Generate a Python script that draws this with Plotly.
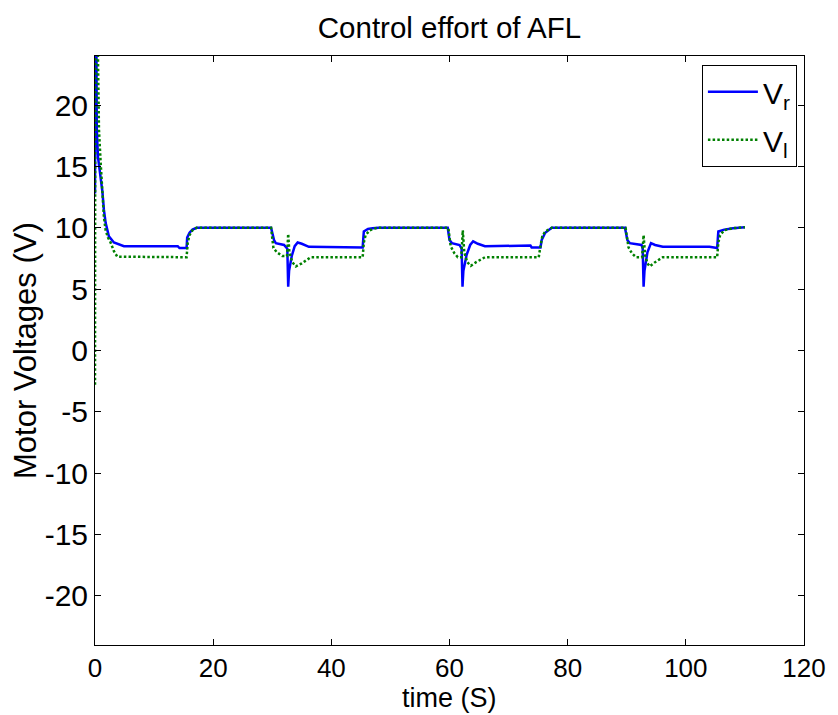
import plotly.graph_objects as go

# V_r (blue, solid)
t_r = [0, 0.05, 0.25, 0.3, 0.5, 1.0, 1.24, 1.5, 1.8, 2.35, 3.2, 4.9, 14.0, 14.3, 15.5,
       15.6, 16.0, 16.5, 17.2, 18.0, 29.8, 30.3, 30.6, 32.0, 32.55, 32.7, 32.85, 33.3,
       33.8, 34.3, 35.0, 36.2, 44.0, 45.3, 45.5, 46.2, 47.0, 48.0, 59.7, 60.0, 60.4,
       61.7, 62.05, 62.2, 62.35, 62.9, 63.5, 64.0, 64.8, 66.0, 73.7, 73.9, 75.4, 75.6,
       76.2, 77.3, 78.0, 89.7, 90.1, 90.5, 92.5, 92.7, 92.85, 93.0, 93.5, 94.1, 94.8,
       96.1, 104.0, 105.3, 105.5, 106.5, 108.0, 109.8, 110.0]
v_r = [12.8, 30, 24, 18.1, 15.8, 13.9, 13.0, 11.5, 10.4, 9.3, 8.8, 8.5, 8.5, 8.35, 8.35,
       9.2, 9.6, 9.85, 10.0, 10.0, 10.0, 9.0, 8.75, 8.6, 8.3, 5.2, 6.5, 7.7,
       8.5, 8.8, 8.7, 8.45, 8.45, 8.4, 9.7, 9.9, 9.97, 10.0, 10.0, 9.0, 8.75,
       8.6, 8.3, 5.2, 6.5, 7.8, 8.6, 8.9, 8.7, 8.5, 8.55, 8.4, 8.4, 9.0,
       9.6, 10.0, 10.0, 10.0, 9.0, 8.75, 8.6, 8.3, 5.2, 6.5, 8.0, 8.75, 8.6,
       8.45, 8.45, 8.35, 9.7, 9.85, 9.97, 10.05, 10.05]

# V_l (green, dotted)
t_l = [0, 0.05, 0.5, 0.67, 0.96, 1.24, 1.5, 1.8, 2.2, 2.64, 3.2, 3.76, 15.4, 15.5,
       15.7, 16.0, 16.5, 17.2, 18.0, 29.8, 30.2, 30.8, 31.7, 32.5, 32.7, 32.9, 33.4,
       34.0, 35.0, 36.5, 45.3, 45.5, 45.8, 46.5, 47.5, 48.0, 59.8, 60.2, 60.8, 61.4,
       62.0, 62.25, 62.5, 63.0, 63.6, 64.5, 66.0, 75.1, 75.4, 75.7, 76.2, 77.3, 78.0,
       89.8, 90.3, 90.9, 91.6, 92.6, 92.85, 93.1, 93.5, 93.9, 94.8, 96.1, 105.3, 105.5,
       105.8, 106.5, 108.0, 110.0]
v_l = [-2.8, 30, 24, 18, 15.3, 12.6, 10.9, 9.8, 9.2, 8.8, 8.1, 7.65, 7.6, 7.6,
       8.8, 9.4, 9.8, 10.0, 10.0, 10.0, 8.35, 8.0, 7.7, 7.7, 9.5, 8.0, 7.2,
       6.85, 7.1, 7.6, 7.6, 8.8, 9.4, 9.8, 9.97, 10.0, 10.0, 8.5, 7.95, 7.6,
       7.6, 9.8, 8.0, 7.2, 6.9, 7.2, 7.6, 7.6, 8.5, 9.3, 9.7, 10.0, 10.0,
       10.0, 8.4, 7.9, 7.6, 7.6, 9.4, 7.8, 7.1, 6.85, 7.2, 7.6, 7.6, 8.8,
       9.4, 9.8, 9.97, 10.05]

x_ticks = [0, 20, 40, 60, 80, 100, 120]
x_tick_labels = ["0", "20", "40", "60", "80", "100", "120"]
y_ticks = [-20, -15, -10, -5, 0, 5, 10, 15, 20]
y_tick_labels = ["-20", "-15", "-10", "-5", "0", "5", "10", "15", "20"]

FONT = "Liberation Sans, Arial, sans-serif"

fig = go.Figure()
fig.add_trace(go.Scatter(x=t_r, y=v_r, mode="lines", name="V<sub>r</sub>",
                         legendgroup="r",
                         line=dict(color="#0000ff", width=2.5)))
fig.add_trace(go.Scatter(x=t_l, y=v_l, mode="lines", name="V<sub>l</sub>",
                         legendgroup="l",
                         line=dict(color="#008000", width=2.5, dash="2.5px,2.2px")))

axis_common = dict(showline=True, linecolor="black", linewidth=1, mirror="ticks",
                   ticks="inside", ticklen=6, tickcolor="black", showgrid=False,
                   zeroline=False)

fig.update_layout(
    width=838, height=715,
    margin=dict(l=95, r=29, t=56, b=70),
    paper_bgcolor="white", plot_bgcolor="white",
    title=dict(text="Control effort of AFL", x=0.5, xref="paper", xanchor="center",
               y=0.961, yref="container", yanchor="middle",
               font=dict(family=FONT, size=29.5, color="black")),
    showlegend=True,
    legend=dict(x=0.99, y=0.985, xanchor="right", yanchor="top",
                bordercolor="black", borderwidth=1, bgcolor="white",
                font=dict(family=FONT, size=30, color="black"),
                tracegroupgap=6, itemwidth=50),
    xaxis=dict(range=[0, 120], tickvals=x_ticks, ticktext=x_tick_labels,
               tickfont=dict(family=FONT, size=26, color="black"),
               **axis_common),
    yaxis=dict(range=[-24, 24], tickvals=y_ticks, ticktext=y_tick_labels,
               tickfont=dict(family=FONT, size=30, color="black"),
               **axis_common),
    annotations=[
        dict(text="time (S)", xref="paper", yref="paper", x=0.5, y=-0.1171,
             xanchor="center", yanchor="bottom", showarrow=False, borderpad=0,
             font=dict(family=FONT, size=27, color="black")),
        dict(text="Motor Voltages (V)", xref="paper", yref="paper", x=-0.098, y=0.5,
             xanchor="center", yanchor="middle", textangle=-90, showarrow=False,
             font=dict(family=FONT, size=31, color="black")),
    ],
)

fig.write_html("out.html")
